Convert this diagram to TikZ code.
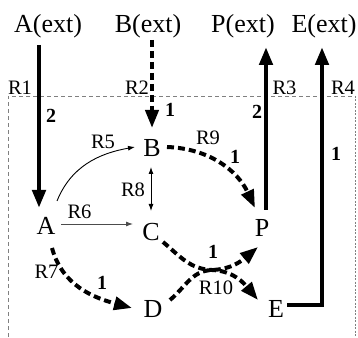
\documentclass[tikz,border=0pt]{standalone}
\usepackage{fontspec}
\setmainfont{Liberation Serif}
\usetikzlibrary{arrows.meta,calc}
\tikzset{
  big/.style={font=\fontsize{26}{30}\selectfont, inner sep=0pt},
  lbl/.style={font=\fontsize{20.5}{24}\selectfont, inner sep=0pt},
  num/.style={font=\fontsize{20}{24}\selectfont\bfseries, inner sep=0pt},
  thk/.style={line width=4.5pt, -{Triangle[length=18pt,width=13pt]}},
  dsh/.style={line width=4pt, dash pattern=on 7pt off 4pt, -{Triangle[length=18pt,width=13pt]}},
  thn/.style={line width=0.9pt, -{Latex[length=7pt,width=5pt]}},
  box/.style={gray, line width=0.7pt, dash pattern=on 4pt off 3pt},
  boxr/.style={gray, line width=0.7pt, dash pattern=on 2pt off 1.5pt},
}
\begin{document}
\begin{tikzpicture}[x=1pt,y=1pt]
\useasboundingbox (0,0) rectangle (358,337);
% compartment
\coordinate (tl) at (8,241);
\coordinate (tr) at (355,241);
\coordinate (bl) at (8,0);
\coordinate (br) at (355,0);
\draw[box] (bl) -- (tl) -- (tr);
\draw[boxr] (tr) -- (br);
% nodes
\node[big] (Aext) at (48,311) {A(ext)};
\node[big] (Bext) at (148,311) {B(ext)};
\node[big] (Pext) at (243,311) {P(ext)};
\node[big] (Eext) at (324,311) {E(ext)};
\node[big] (A) at (46,111) {A};
\node[big] (B) at (152,189) {B};
\node[big] (C) at (151,105) {C};
\node[big] (D) at (153,28) {D};
\node[big] (P) at (262,109) {P};
\node[big] (E) at (276,28) {E};
\coordinate (r10) at (212,67);
% exchange reactions
\draw[thk] ($(Aext.center)+(-9,-19)$) -- ($(A.center)+(-7,18)$);
\draw[dsh] ($(Bext.center)+(4,-14)$) -- ($(B.center)+(0,20)$);
\draw[thk] ($(P.center)+(4,18)$) -- ($(Pext.center)+(23,-21)$);
\draw[thk] ($(E.center)+(11,4)$) -| ($(Eext.center)+(-2,-21)$);
% internal reactions
\draw[thn] ($(A.center)+(11,25)$) to[out=68,in=190] ($(B.center)+(-17,1)$);
\draw[thn, black!70] ($(A.center)+(15,2)$) -- ($(C.center)+(-18,8)$);
\draw[line width=0.9pt, {Latex[length=7pt,width=5pt]}-{Latex[length=7pt,width=5pt]}] ($(B.center)+(-1,-19)$) -- ($(C.center)+(0,21)$);
\draw[dsh] ($(A.center)+(6,-22)$) to[out=-75,in=165] ($(D.center)+(-21,1)$);
\draw[dsh] ($(B.center)+(15,1)$) to[out=-2,in=115] ($(P.center)+(-7,20)$);
\draw[dsh] ($(C.center)+(12,-10)$) to[out=-40,in=178] (r10) to[out=-2,in=130] ($(E.center)+(-18,9)$);
\draw[dsh] ($(D.center)+(17,9)$) to[out=40,in=182] (r10) to[out=2,in=220] ($(P.center)+(-4,-19)$);
% labels
\node[lbl] (lR1) at (20,249) {R1};
\node[lbl] (lR2) at (137,249) {R2};
\node[lbl] (lR3) at (284.5,249) {R3};
\node[lbl] (lR4) at (343,249) {R4};
\node[lbl] (lR5) at (103,195) {R5};
\node[lbl] (lR6) at (79.5,125) {R6};
\node[lbl] (lR7) at (46.5,65) {R7};
\node[lbl] (lR8) at (133,147) {R8};
\node[lbl] (lR9) at (208,199) {R9};
\node[lbl] (lR10) at (216,49) {R10};
\node[num] (n1) at (51,221) {2};
\node[num] (n2) at (170,227) {1};
\node[num] (n3) at (257,225) {2};
\node[num] (n4) at (336,183) {1};
\node[num] (n7) at (102,54) {1};
\node[num] (n9) at (235,180) {1};
\node[num] (n10) at (213,85) {1};
\end{tikzpicture}
\end{document}
